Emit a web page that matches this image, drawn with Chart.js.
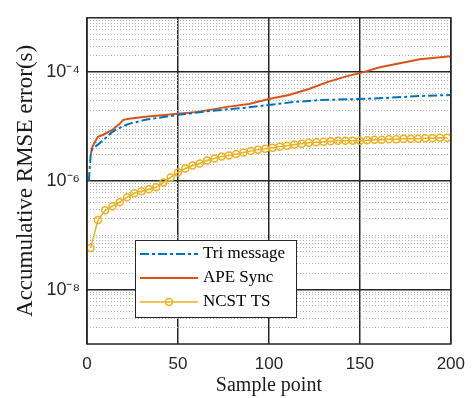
<!DOCTYPE html>
<html>
<head>
<meta charset="utf-8">
<script src="https://cdn.jsdelivr.net/npm/chart.js@4"></script>
<style>
  html, body { margin: 0; padding: 0; background: #fff; }
</style>
</head>
<body>
<canvas id="myChart" width="475" height="398"></canvas>
<script>
var triX = [1, 2, 3, 6, 11, 14, 19, 23, 32, 50, 68, 86, 100, 114, 129, 150, 164, 183, 200];
var triY = [1.0e-6, 2.92e-6, 3.92e-6, 4.65e-6, 6.5e-6, 8.0e-6, 9.9e-6, 1.12e-5, 1.33e-5, 1.64e-5,
  1.94e-5, 2.2e-5, 2.5e-5, 2.83e-5, 3.08e-5, 3.21e-5, 3.35e-5, 3.65e-5, 3.8e-5];

var apeX = [2, 3, 6, 9, 14, 16, 18, 20, 23, 32, 50, 61, 77, 89, 100, 111, 122, 132, 143, 150, 161, 172, 183, 200];
var apeY = [3.05e-6, 4.27e-6, 6.5e-6, 7.07e-6, 8.72e-6, 9.89e-6, 1.12e-5, 1.33e-5, 1.39e-5, 1.51e-5,
  1.71e-5, 1.86e-5, 2.3e-5, 2.6e-5, 3.21e-5, 3.8e-5, 4.89e-5, 6.57e-5, 8.45e-5, 9.59e-5,
  1.23e-4, 1.46e-4, 1.73e-4, 1.96e-4];

var ncstX = [2, 6, 10, 14, 18, 22, 26, 30, 34, 38, 42, 46, 50, 54, 58, 62, 66, 70, 74, 78,
  82, 86, 90, 94, 98, 102, 106, 110, 114, 118, 122, 126, 130, 134, 138, 142, 146, 150, 154, 158,
  162, 166, 170, 174, 178, 182, 186, 190, 194, 198];
var ncstY = [5.85e-8, 1.9e-7, 2.89e-7, 3.42e-7, 4.05e-7, 5.0e-7, 5.91e-7, 6.43e-7, 7.0e-7, 7.61e-7,
  9.39e-7, 1.16e-6, 1.43e-6, 1.69e-6, 1.92e-6, 2.09e-6, 2.37e-6, 2.58e-6, 2.8e-6, 2.92e-6,
  3.11e-6, 3.32e-6, 3.53e-6, 3.76e-6, 3.92e-6, 4.09e-6, 4.27e-6, 4.45e-6, 4.65e-6, 4.84e-6,
  5.05e-6, 5.15e-6, 5.26e-6, 5.38e-6, 5.49e-6, 5.49e-6, 5.49e-6, 5.49e-6, 5.61e-6, 5.73e-6,
  5.73e-6, 5.85e-6, 5.85e-6, 5.97e-6, 5.97e-6, 5.97e-6, 6.1e-6, 6.1e-6, 6.23e-6, 6.23e-6];

var seriesNames = ["Tri message", "APE Sync", "NCST TS"];
var xTicks = [0, 50, 100, 150, 200];
var yLabelExps = [-4, -6, -8];

function pts(xs, ys) {
  return xs.map(function (x, i) { return { x: x, y: ys[i] }; });
}

// every 1..9 x 10^k between 1e-9 and 1e-3, for the log grid
var yGridVals = [];
for (var k = -9; k < -3; k++) {
  for (var m = 1; m < 10; m++) yGridVals.push(m * Math.pow(10, k));
}
yGridVals.push(1e-3);

function decadeExp(v) {
  var l = Math.log10(v);
  var e = Math.round(l);
  return Math.abs(l - e) < 1e-6 ? e : null;
}
function isMajor(v) {
  var e = decadeExp(v);
  return e !== null && e % 2 === 0;
}
var supMap = { "-": "\u207B", "0": "\u2070", "1": "\u00B9", "2": "\u00B2", "3": "\u00B3",
  "4": "\u2074", "5": "\u2075", "6": "\u2076", "7": "\u2077", "8": "\u2078", "9": "\u2079" };
function sup(n) {
  return String(n).split("").map(function (c) { return supMap[c]; }).join("");
}

Chart.defaults.font.family = "'Liberation Sans', Arial, sans-serif";
Chart.defaults.color = "#262626";

var boxLegend = {
  id: "boxLegend",
  afterDraw: function (chart) {
    var c = chart.ctx, a = chart.chartArea;
    c.save();
    c.strokeStyle = "#262626";
    c.lineWidth = 1.5;
    c.strokeRect(a.left, a.top, a.right - a.left, a.bottom - a.top);

    var lx = 135.5, ly = 240.5, lw = 161, lh = 77;
    c.fillStyle = "#fff";
    c.fillRect(lx, ly, lw, lh);
    c.strokeStyle = "#262626";
    c.lineWidth = 1;
    c.strokeRect(lx, ly, lw, lh);
    chart.data.datasets.forEach(function (ds, i) {
      var y = 254 + i * 24;
      c.strokeStyle = ds.borderColor;
      c.lineWidth = ds.borderWidth;
      c.setLineDash(ds.borderDash || []);
      c.beginPath();
      c.moveTo(140, y);
      c.lineTo(198, y);
      c.stroke();
      c.setLineDash([]);
      if (ds.pointRadius > 0) {
        c.lineWidth = ds.pointBorderWidth;
        c.beginPath();
        c.arc(169, y, ds.pointRadius, 0, 2 * Math.PI);
        c.stroke();
      }
      c.fillStyle = "#000";
      c.font = "17px 'Liberation Serif'";
      c.textBaseline = "middle";
      c.fillText(ds.label, 203, y);
    });
    c.restore();
  }
};

new Chart("myChart", {
  type: "line",
  data: {
    datasets: [
      {
        label: seriesNames[0],
        data: pts(triX, triY),
        borderColor: "#0072BD",
        borderWidth: 2,
        borderDash: [9, 3, 3, 3],
        pointRadius: 0,
        tension: 0
      },
      {
        label: seriesNames[1],
        data: pts(apeX, apeY),
        borderColor: "#D95319",
        borderWidth: 2,
        pointRadius: 0,
        tension: 0
      },
      {
        label: seriesNames[2],
        data: pts(ncstX, ncstY),
        borderColor: "#EDB120",
        borderWidth: 1.5,
        pointRadius: 3.5,
        pointBorderWidth: 1.5,
        pointBorderColor: "#EDB120",
        pointBackgroundColor: "rgba(0,0,0,0)",
        tension: 0
      }
    ]
  },
  options: {
    responsive: false,
    animation: false,
    events: [],
    layout: { padding: { left: 0, right: 16, top: 14, bottom: 0 } },
    plugins: { legend: { display: false }, tooltip: { enabled: false } },
    scales: {
      x: {
        type: "linear",
        min: 0,
        max: 200,
        afterBuildTicks: function (s) {
          s.ticks = xTicks.map(function (v) { return { value: v }; });
        },
        afterFit: function (s) { s.height = 54; },
        ticks: { padding: 10, font: { size: 17 }, color: "#262626" },
        grid: { color: "#262626", lineWidth: 1.5, drawTicks: false },
        border: { display: false },
        title: {
          display: true,
          text: "Sample point",
          font: { family: "'Liberation Serif'", size: 20 },
          color: "#1a1a1a",
          padding: { top: 0, bottom: 0 }
        }
      },
      y: {
        type: "logarithmic",
        min: 1e-9,
        max: 1e-3,
        afterBuildTicks: function (s) {
          s.ticks = yGridVals.map(function (v) { return { value: v }; });
        },
        afterFit: function (s) { s.width = 87; },
        ticks: {
          autoSkip: false,
          padding: 7,
          font: { size: 18 },
          color: "#262626",
          callback: function (v) {
            var e = decadeExp(v);
            return (e !== null && yLabelExps.indexOf(e) >= 0) ? "10" + sup(e) : "";
          }
        },
        grid: {
          drawTicks: false,
          color: function (ctx) {
            return ctx.tick && isMajor(ctx.tick.value) ? "#262626" : "#b0b0b0";
          },
          lineWidth: function (ctx) {
            return ctx.tick && isMajor(ctx.tick.value) ? 1.5 : 1;
          }
        },
        border: {
          display: false,
          dash: function (ctx) {
            return ctx.tick && isMajor(ctx.tick.value) ? [] : [1, 2];
          }
        },
        title: {
          display: true,
          text: "Accumulative RMSE error(s)",
          font: { family: "'Liberation Serif'", size: 23 },
          color: "#1a1a1a",
          padding: { top: 12, bottom: 0 }
        }
      }
    }
  },
  plugins: [boxLegend]
});
</script>
</body>
</html>
